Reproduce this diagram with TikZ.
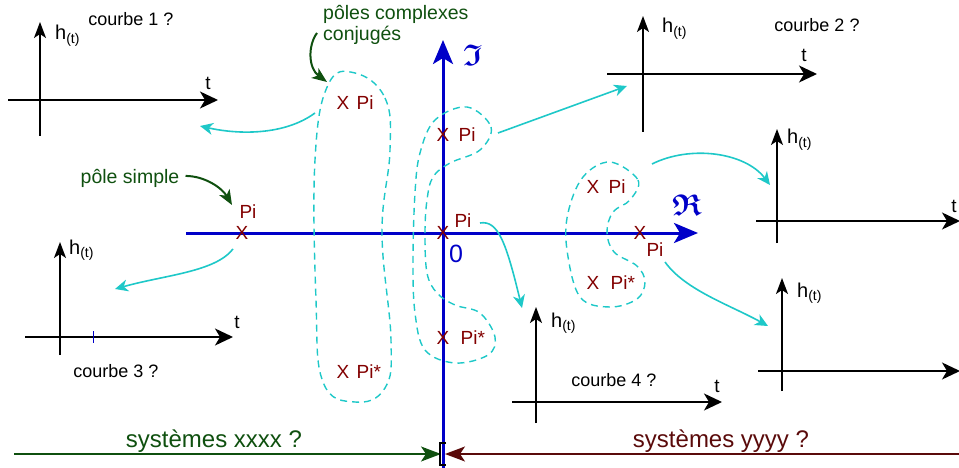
\documentclass[tikz,border=0pt]{standalone}
\usepackage{amssymb}
\usepackage{bm}
\usepackage{fontspec}
\setmainfont{Liberation Sans}
\usetikzlibrary{arrows.meta, positioning}

\definecolor{axeblue}{RGB}{0,0,200}
\definecolor{polered}{RGB}{130,0,0}
\definecolor{linkcyan}{RGB}{30,200,200}
\definecolor{notegreen}{RGB}{15,80,15}
\definecolor{sysmaroon}{RGB}{90,10,10}

\begin{document}
\begin{tikzpicture}[x=1pt, y=-1pt,
    courbe/.style={inner sep=0pt, anchor=base, font=\fontsize{18}{20}\selectfont},
    hlabel/.style={inner sep=0pt, anchor=base west, font=\fontsize{20}{20}\selectfont},
    tlabel/.style={inner sep=0pt, anchor=base, font=\fontsize{19}{20}\selectfont},
    pole/.style={inner sep=0pt, text=polered, font=\fontsize{19}{20}\selectfont},
    note/.style={inner sep=0pt, text=notegreen, align=left, font=\fontsize{19.5}{21}\selectfont},
    syslabel/.style={inner sep=0pt, anchor=base, font=\fontsize{24}{26}\selectfont},
    axislabel/.style={inner sep=0pt, text=axeblue, font=\fontsize{30}{32}\selectfont},
    taxis/.style={draw=black, line width=1.6pt, -{Stealth[length=18pt, width=17pt, inset=5pt]}},
    haxis/.style={draw=black, line width=1.6pt, -{Stealth[length=16pt, width=12pt, inset=4pt]}},
    planeaxis/.style={draw=axeblue, line width=3pt, -{Stealth[length=24pt, width=20pt, inset=6pt]}},
    link/.style={draw=linkcyan, line width=1.6pt, -{Stealth[length=13pt, width=12pt, inset=4pt]}},
    contour/.style={draw=linkcyan, line width=1.4pt, dash pattern=on 7pt off 5pt},
    hint/.style={draw=notegreen, line width=2pt, -{Stealth[length=15pt, width=12pt, inset=4pt]}},
    sysline/.style={line width=1.6pt, -{Stealth[length=20pt, width=15pt, inset=5pt]}}
]
    \useasboundingbox (0,0) rectangle (959,468);

    % time axes h(t)
    \foreach \n/\x/\b/\t/\y/\l/\r in {1/40/136/22/100/8/218, 2/643/132/16/74/607/817,
        3/777/243/129/221/756/960, 4/536/423/307/402/512/722,
        5/60/355/242/337/25/233, 6/782/391/278/371/758/960} {
        \coordinate (hb\n) at (\x,\b);
        \coordinate (ht\n) at (\x,\t);
        \coordinate (tl\n) at (\l,\y);
        \coordinate (tr\n) at (\r,\y);
        \draw[haxis] (hb\n) -- (ht\n);
        \draw[taxis] (tl\n) -- (tr\n);
    }
    \foreach \n/\x/\y in {1/55/40, 2/662/33, 3/787/144, 4/551/327, 5/69/254, 6/797/297}
        \node[hlabel] (h\n) at (\x,\y) {h\textsubscript{(t)}};
    \node[tlabel] (t1) at (208,90) {t};
    \node[tlabel] (t2) at (804,62) {t};
    \node[tlabel] (t3) at (954,212) {t};
    \node[tlabel] (t4) at (717,392) {t};
    \node[tlabel] (t5) at (237,328) {t};
    \draw[axeblue, line width=1pt] (93,331) -- (93,343);

    \node[courbe] (c1) at (131,26) {courbe 1 ?};
    \node[courbe] (c2) at (817,32) {courbe 2 ?};
    \node[courbe] (c3) at (116,377) {courbe 3 ?};
    \node[courbe] (c4) at (614,386) {courbe 4 ?};

    % complex plane
    \coordinate (reL) at (186,233);
    \coordinate (reR) at (698,233);
    \coordinate (imB) at (443,468);
    \coordinate (imT) at (443,40);
    \draw[planeaxis] (reL) -- (reR);
    \draw[planeaxis] (imB) -- (imT);
    \node[axislabel] (im) at (473,55) {$\bm{\mathfrak{I}}$};
    \node[axislabel] (re) at (687,205) {$\bm{\mathfrak{R}}$};
    \node[axislabel, font=\fontsize{25}{26}\selectfont] (zero) at (456,254) {0};

    % poles
    \node[pole] (ps) at (242,233) {X};
    \node[pole] (psl) at (248,212) {Pi};
    \node[pole] (pc1) at (343,103) {X};
    \node[pole, right=7pt of pc1] (pc1l) {Pi};
    \node[pole] (pc2) at (343,372) {X};
    \node[pole, right=7pt of pc2] (pc2l) {Pi*};
    \node[pole] (pa1) at (443,135) {X};
    \node[pole, right=9pt of pa1] (pa1l) {Pi};
    \node[pole] (po) at (443,233) {X};
    \node[pole] (pol) at (463,221) {Pi};
    \node[pole] (pa2) at (443,338) {X};
    \node[pole, right=11pt of pa2] (pa2l) {Pi*};
    \node[pole] (pr1) at (593,187) {X};
    \node[pole, right=9pt of pr1] (pr1l) {Pi};
    \node[pole] (pr) at (640,233) {X};
    \node[pole] (prl) at (655,250) {Pi};
    \node[pole] (pr2) at (593,283) {X};
    \node[pole, right=11pt of pr2] (pr2l) {Pi*};

    % dashed groups
    \draw[contour] plot[smooth cycle, tension=0.7] coordinates {(355,73) (385,98) (390,150) (382,233)
        (391,340) (385,388) (355,402) (323,382) (316,300) (315,160) (328,85)};
    \draw[contour] plot[smooth cycle, tension=0.6] coordinates {(467,107) (491,127) (480,150) (450,163)
        (433,177) (427,200) (425,233) (427,273) (437,293) (455,305) (480,313) (495,337) (488,355)
        (455,363) (425,350) (415,313) (413,260) (415,193) (420,153) (435,120)};
    \draw[contour] plot[smooth cycle, tension=0.6] coordinates {(610,162) (638,180) (630,200) (613,212)
        (607,232) (614,252) (637,266) (645,282) (637,299) (610,307) (580,297) (567,250) (568,213) (583,177)};

    % notes
    \node[note, anchor=north west] (cplx) at (323,5) {pôles complexes\\conjugés};
    \node[note, anchor=base] (simple) at (130,183) {pôle simple};
    \coordinate (cplxtail) at (317,33);
    \coordinate (cplxtip) at (327,82);
    \coordinate (simpletip) at (232,205);

    % system halves
    \node[syslabel, text=notegreen] (sysx) at (214,447) {systèmes xxxx ?};
    \node[syslabel, text=sysmaroon] (sysy) at (721,447) {systèmes yyyy ?};
    \coordinate (xstart) at (14,454);
    \coordinate (xtip) at (441,454);
    \coordinate (ystart) at (962,454);
    \coordinate (ytip) at (445,454);

    % link ends
    \coordinate (l1a) at (315,113);  \coordinate (l1b) at (200,126);
    \coordinate (l2a) at (233,249);  \coordinate (l2b) at (115,289);
    \coordinate (l3a) at (498,133);  \coordinate (l3b) at (627,86);
    \coordinate (l4a) at (480,223);  \coordinate (l4b) at (522,308);
    \coordinate (l5a) at (652,164);  \coordinate (l5b) at (770,185);
    \coordinate (l6a) at (665,262);  \coordinate (l6b) at (768,326);

    % Connections
    \draw[link] (l1a) .. controls (285,135) and (240,135) .. (l1b);
    \draw[link] (l2a) .. controls (215,272) and (165,275) .. (l2b);
    \draw[link] (l3a) -- (l3b);
    \draw[link] (l4a) .. controls (498,220) and (506,242) .. (l4b);
    \draw[link] (l5a) .. controls (690,145) and (745,152) .. (l5b);
    \draw[link] (l6a) .. controls (685,290) and (730,305) .. (l6b);
    \draw[hint] (cplxtail) .. controls (308,45) and (308,68) .. (cplxtip);
    \draw[hint] (simple.east) ++(6,-2) .. controls (205,176) and (222,188) .. (simpletip);
    \draw[sysline, draw=notegreen, fill=notegreen] (xstart) -- (xtip);
    \draw[sysline, draw=sysmaroon, fill=sysmaroon] (ystart) -- (ytip);
    \draw[line width=2pt] (446,443) -- (440,443) -- (440,465) -- (446,465);
\end{tikzpicture}
\end{document}
